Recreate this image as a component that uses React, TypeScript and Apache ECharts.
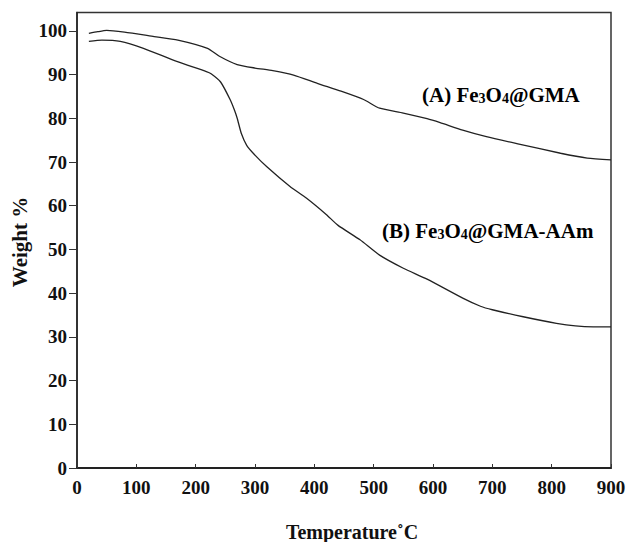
import React, { useEffect, useRef } from "react";
import * as echarts from "echarts";

const yTicks = [0, 10, 20, 30, 40, 50, 60, 70, 80, 90, 100];
const xTicks = [0, 100, 200, 300, 400, 500, 600, 700, 800, 900];

const seriesA: [number, number][] = [
  [20, 99.4], [35, 99.8], [50, 100.1], [80, 99.7], [130, 98.7], [170, 97.9],
  [220, 96.0], [240, 94.2], [270, 92.3], [300, 91.5], [330, 90.9], [365, 89.9],
  [405, 88.0], [445, 86.2], [483, 84.3], [510, 82.3], [550, 81.2], [590, 79.9],
  [612, 79.0], [650, 77.3], [690, 75.8], [745, 74.1], [815, 72.0], [860, 70.9],
  [900, 70.5],
];

const seriesB: [number, number][] = [
  [20, 97.6], [42, 97.9], [73, 97.6], [112, 96.0], [168, 93.0], [218, 90.7],
  [226, 90.2], [242, 88.3], [258, 84.3], [265, 82.0], [270, 80.0], [277, 76.5],
  [286, 73.8], [297, 72.0], [320, 68.9], [359, 64.4], [387, 61.7], [420, 58.0],
  [440, 55.5], [477, 52.2], [510, 48.7], [550, 45.7], [590, 43.2], [651, 38.8],
  [680, 37.0], [700, 36.2], [752, 34.6], [808, 33.1], [840, 32.5], [870, 32.3],
  [900, 32.3],
];

const FONT = "'Liberation Serif', 'Times New Roman', serif";

export default function App() {
  const ref = useRef<HTMLDivElement>(null);
  useEffect(() => {
    document.body.style.margin = "0";
    const chart = echarts.init(ref.current!, null, { renderer: "svg" });
    const rich = {
      a: { fontFamily: FONT, fontWeight: "bold", fontSize: 21, color: "#111" },
      s: { fontFamily: FONT, fontWeight: "bold", fontSize: 14, color: "#111", padding: [7, 0, 0, 0] },
    };
    chart.setOption({
      animation: false,
      backgroundColor: "#fff",
      grid: {
        left: 77, top: 12.5, right: 16, bottom: 74,
        containLabel: false, outerBoundsMode: "none",
        show: true, borderColor: "#333", borderWidth: 1.5,
      },
      xAxis: {
        type: "value", min: 0, max: 900, interval: 100,
        axisLine: { show: true, lineStyle: { color: "#222", width: 2 } },
        axisTick: { show: true, inside: true, length: 4, lineStyle: { color: "#333" } },
        axisLabel: { margin: 10, fontFamily: FONT, fontWeight: "bold", fontSize: 19, color: "#111", customValues: xTicks },
        splitLine: { show: false },
      },
      yAxis: {
        type: "value", min: 0, max: 104.2, interval: 10,
        axisLine: { show: true, lineStyle: { color: "#222", width: 1.5 } },
        axisTick: { show: true, inside: false, length: 8, lineStyle: { color: "#333" }, customValues: yTicks },
        axisLabel: { margin: 10, fontFamily: FONT, fontWeight: "bold", fontSize: 19, color: "#111", customValues: yTicks },
        splitLine: { show: false },
      },
      series: [
        {
          type: "line", data: seriesA, showSymbol: false, smooth: 0.2,
          lineStyle: { color: "#222", width: 1.3 },
        },
        {
          type: "line", data: seriesB, showSymbol: false, smooth: 0.2,
          lineStyle: { color: "#222", width: 1.3 },
        },
      ],
      graphic: [
        {
          type: "text", left: 422, top: 84,
          style: { text: "{a|(A) Fe}{s|3}{a|O}{s|4}{a|@GMA}", rich },
        },
        {
          type: "text", left: 382, top: 220,
          style: { text: "{a|(B) Fe}{s|3}{a|O}{s|4}{a|@GMA-AAm}", rich },
        },
        {
          type: "text", x: 20, y: 242, rotation: Math.PI / 2,
          style: {
            text: "Weight %", fontFamily: FONT, fontWeight: "bold", fontSize: 21,
            fill: "#111", align: "center", verticalAlign: "middle",
          },
        },
        {
          type: "text", x: 352, y: 532,
          style: {
            text: "Temperature˚C", fontFamily: FONT, fontWeight: "bold", fontSize: 20,
            fill: "#111", align: "center", verticalAlign: "middle",
          },
        },
      ],
    });
    return () => chart.dispose();
  }, []);
  return <div ref={ref} style={{ width: 627, height: 542 }} />;
}
